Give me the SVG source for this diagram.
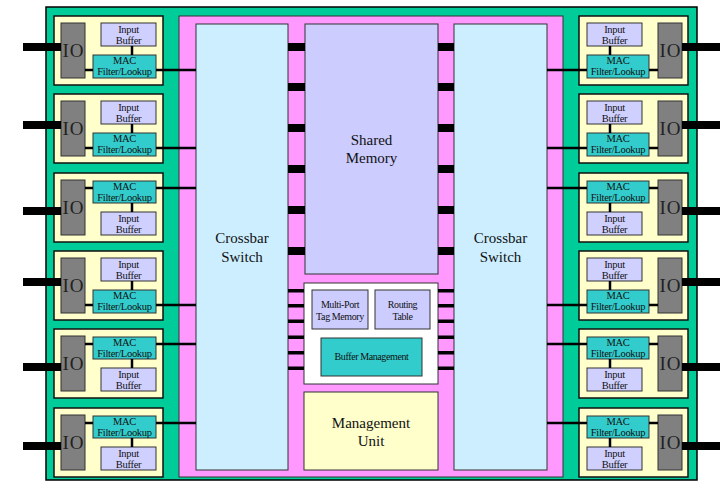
<svg xmlns="http://www.w3.org/2000/svg" width="720" height="482" viewBox="0 0 720 482">
<style>
text{font-family:"Liberation Serif","Times New Roman",serif;fill:#111;text-anchor:middle}
.sm{font-size:10px;letter-spacing:-0.4px}
.md{font-size:10.5px;letter-spacing:-0.3px}
.lg{font-size:15px}
.io{font-size:19px;fill:#222;letter-spacing:1px}
.port{fill:#FFFFCC;stroke:#111;stroke-width:1.5}
.iob{fill:#808080;stroke:#333;stroke-width:1}
.buf{fill:#D0D0FF;stroke:#333;stroke-width:1}
.mac{fill:#33CCCC;stroke:#333;stroke-width:1}
.ln{stroke:#000;stroke-width:2.5;fill:none}
.ext{stroke:#000;stroke-width:8;fill:none}
.bar{fill:#000}
</style>
<rect width="720" height="482" fill="#fff"/>
<g id="chassis">
<rect x="46" y="7" width="651" height="473" fill="#00CC99" stroke="#000" stroke-width="1.5"/>
</g>
<g id="core">
<rect x="179" y="16" width="384" height="461" fill="#FF99FF" stroke="#333" stroke-width="1"/>
</g>
<g id="crossbar-left">
<rect x="196" y="24" width="92" height="446" fill="#CCEEFF" stroke="#333" stroke-width="1"/>
<text class="lg" x="242" y="243">Crossbar</text>
<text class="lg" x="242" y="262">Switch</text>
</g>
<g id="crossbar-right">
<rect x="454" y="24" width="93" height="446" fill="#CCEEFF" stroke="#333" stroke-width="1"/>
<text class="lg" x="500.5" y="243">Crossbar</text>
<text class="lg" x="500.5" y="262">Switch</text>
</g>
<g id="shared-memory">
<rect x="305" y="24" width="133" height="250" fill="#CCCCFF" stroke="#333" stroke-width="1"/>
<text class="lg" x="371.5" y="145">Shared</text>
<text class="lg" x="371.5" y="163">Memory</text>
</g>
<g id="control">
<rect x="304" y="283" width="134" height="101" fill="#FFFFFF" stroke="#333" stroke-width="1"/>
</g>
<g id="tag-memory">
<rect x="312" y="290" width="56" height="39" fill="#CCCCFF" stroke="#333" stroke-width="1"/>
<text class="sm" x="340" y="308">Multi-Port</text>
<text class="sm" x="340" y="320">Tag Memory</text>
</g>
<g id="routing-table">
<rect x="375" y="290" width="55" height="39" fill="#CCCCFF" stroke="#333" stroke-width="1"/>
<text class="sm" x="402.5" y="308">Routing</text>
<text class="sm" x="402.5" y="320">Table</text>
</g>
<g id="buffer-management">
<rect x="321" y="338" width="101" height="38" fill="#33CCCC" stroke="#333" stroke-width="1"/>
<text class="sm" x="371.5" y="360">Buffer Management</text>
</g>
<g id="management-unit">
<rect x="304" y="392" width="134" height="78" fill="#FFFFCC" stroke="#333" stroke-width="1"/>
<text class="lg" x="371" y="428">Management</text>
<text class="lg" x="371" y="446">Unit</text>
</g>

<!-- left ports -->
<g id="port-l1">
<rect class="port" x="54" y="16" width="109" height="69"/>
<rect class="iob" x="61" y="23" width="24" height="55"/><text class="io" x="73.5" y="57">IO</text>
<rect class="buf" x="101" y="23" width="55" height="23"/><text class="md" x="128.5" y="33">Input</text><text class="md" x="128.5" y="44">Buffer</text>
<rect class="mac" x="93" y="55" width="63" height="23"/><text class="md" x="124.5" y="64">MAC</text><text class="md" x="124.5" y="75">Filter/Lookup</text>
</g>
<g id="port-l2">
<rect class="port" x="54" y="94" width="109" height="69"/>
<rect class="iob" x="61" y="101" width="24" height="55"/><text class="io" x="73.5" y="135">IO</text>
<rect class="buf" x="101" y="101" width="55" height="23"/><text class="md" x="128.5" y="111">Input</text><text class="md" x="128.5" y="122">Buffer</text>
<rect class="mac" x="93" y="133" width="63" height="23"/><text class="md" x="124.5" y="142">MAC</text><text class="md" x="124.5" y="153">Filter/Lookup</text>
</g>
<g id="port-l3">
<rect class="port" x="54" y="173" width="109" height="69"/>
<rect class="iob" x="61" y="180" width="24" height="55"/><text class="io" x="73.5" y="214">IO</text>
<rect class="mac" x="93" y="181" width="63" height="22"/><text class="md" x="124.5" y="190">MAC</text><text class="md" x="124.5" y="201">Filter/Lookup</text>
<rect class="buf" x="101" y="212" width="55" height="23"/><text class="md" x="128.5" y="222">Input</text><text class="md" x="128.5" y="233">Buffer</text>
</g>
<g id="port-l4">
<rect class="port" x="54" y="251" width="109" height="69"/>
<rect class="iob" x="61" y="258" width="24" height="55"/><text class="io" x="73.5" y="292">IO</text>
<rect class="buf" x="101" y="258" width="55" height="23"/><text class="md" x="128.5" y="268">Input</text><text class="md" x="128.5" y="279">Buffer</text>
<rect class="mac" x="93" y="290" width="63" height="23"/><text class="md" x="124.5" y="299">MAC</text><text class="md" x="124.5" y="310">Filter/Lookup</text>
</g>
<g id="port-l5">
<rect class="port" x="54" y="329" width="109" height="69"/>
<rect class="iob" x="61" y="336" width="24" height="55"/><text class="io" x="73.5" y="370">IO</text>
<rect class="mac" x="93" y="337" width="63" height="22"/><text class="md" x="124.5" y="346">MAC</text><text class="md" x="124.5" y="357">Filter/Lookup</text>
<rect class="buf" x="101" y="368" width="55" height="23"/><text class="md" x="128.5" y="378">Input</text><text class="md" x="128.5" y="389">Buffer</text>
</g>
<g id="port-l6">
<rect class="port" x="54" y="408" width="109" height="69"/>
<rect class="iob" x="61" y="415" width="24" height="55"/><text class="io" x="73.5" y="449">IO</text>
<rect class="mac" x="93" y="416" width="63" height="22"/><text class="md" x="124.5" y="425">MAC</text><text class="md" x="124.5" y="436">Filter/Lookup</text>
<rect class="buf" x="101" y="447" width="55" height="23"/><text class="md" x="128.5" y="457">Input</text><text class="md" x="128.5" y="468">Buffer</text>
</g>

<!-- right ports -->
<g id="port-r1">
<rect class="port" x="579" y="16" width="109" height="69"/>
<rect class="iob" x="658" y="23" width="24" height="55"/><text class="io" x="670.5" y="57">IO</text>
<rect class="buf" x="587" y="23" width="55" height="23"/><text class="md" x="614.5" y="33">Input</text><text class="md" x="614.5" y="44">Buffer</text>
<rect class="mac" x="587" y="55" width="62" height="23"/><text class="md" x="618" y="64">MAC</text><text class="md" x="618" y="75">Filter/Lookup</text>
</g>
<g id="port-r2">
<rect class="port" x="579" y="94" width="109" height="69"/>
<rect class="iob" x="658" y="101" width="24" height="55"/><text class="io" x="670.5" y="135">IO</text>
<rect class="buf" x="587" y="101" width="55" height="23"/><text class="md" x="614.5" y="111">Input</text><text class="md" x="614.5" y="122">Buffer</text>
<rect class="mac" x="587" y="133" width="62" height="23"/><text class="md" x="618" y="142">MAC</text><text class="md" x="618" y="153">Filter/Lookup</text>
</g>
<g id="port-r3">
<rect class="port" x="579" y="173" width="109" height="69"/>
<rect class="iob" x="658" y="180" width="24" height="55"/><text class="io" x="670.5" y="214">IO</text>
<rect class="mac" x="587" y="181" width="62" height="22"/><text class="md" x="618" y="190">MAC</text><text class="md" x="618" y="201">Filter/Lookup</text>
<rect class="buf" x="587" y="212" width="55" height="23"/><text class="md" x="614.5" y="222">Input</text><text class="md" x="614.5" y="233">Buffer</text>
</g>
<g id="port-r4">
<rect class="port" x="579" y="251" width="109" height="69"/>
<rect class="iob" x="658" y="258" width="24" height="55"/><text class="io" x="670.5" y="292">IO</text>
<rect class="buf" x="587" y="258" width="55" height="23"/><text class="md" x="614.5" y="268">Input</text><text class="md" x="614.5" y="279">Buffer</text>
<rect class="mac" x="587" y="290" width="62" height="23"/><text class="md" x="618" y="299">MAC</text><text class="md" x="618" y="310">Filter/Lookup</text>
</g>
<g id="port-r5">
<rect class="port" x="579" y="329" width="109" height="69"/>
<rect class="iob" x="658" y="336" width="24" height="55"/><text class="io" x="670.5" y="370">IO</text>
<rect class="mac" x="587" y="337" width="62" height="22"/><text class="md" x="618" y="346">MAC</text><text class="md" x="618" y="357">Filter/Lookup</text>
<rect class="buf" x="587" y="368" width="55" height="23"/><text class="md" x="614.5" y="378">Input</text><text class="md" x="614.5" y="389">Buffer</text>
</g>
<g id="port-r6">
<rect class="port" x="579" y="408" width="109" height="69"/>
<rect class="iob" x="658" y="415" width="24" height="55"/><text class="io" x="670.5" y="449">IO</text>
<rect class="mac" x="587" y="416" width="62" height="22"/><text class="md" x="618" y="425">MAC</text><text class="md" x="618" y="436">Filter/Lookup</text>
<rect class="buf" x="587" y="447" width="55" height="23"/><text class="md" x="614.5" y="457">Input</text><text class="md" x="614.5" y="468">Buffer</text>
</g>

<g id="connectors">
<path class="ext" d="M23 47H61M23 125H61M23 211H61M23 282H61M23 367H61M23 446H61"/>
<path class="ext" d="M682 47H720M682 125H720M682 211H720M682 282H720M682 367H720M682 446H720"/>
<path class="ln" d="M85 70H93M85 148H93M85 188H93M85 305H93M85 344H93M85 423H93"/>
<path class="ln" d="M132 46V55M132 124V133M132 203V212M132 281V290M132 359V368M132 438V447"/>
<path class="ln" d="M156 70H196M156 148H196M156 188H196M156 305H196M156 344H196M156 423H196"/>
<path class="ln" d="M649 70H658M649 148H658M649 188H658M649 305H658M649 344H658M649 423H658"/>
<path class="ln" d="M610 46V55M610 124V133M610 203V212M610 281V290M610 359V368M610 438V447"/>
<path class="ln" d="M547 70H587M547 148H587M547 188H587M547 305H587M547 344H587M547 423H587"/>
<g class="bar">
<rect x="288" y="43" width="17" height="8"/><rect x="288" y="83" width="17" height="8"/><rect x="288" y="124" width="17" height="8"/>
<rect x="288" y="165" width="17" height="8"/><rect x="288" y="206" width="17" height="8"/><rect x="288" y="247" width="17" height="8"/>
<rect x="438" y="43" width="16" height="8"/><rect x="438" y="83" width="16" height="8"/><rect x="438" y="124" width="16" height="8"/>
<rect x="438" y="165" width="16" height="8"/><rect x="438" y="206" width="16" height="8"/><rect x="438" y="247" width="16" height="8"/>
<rect x="288" y="289" width="16" height="3.5"/><rect x="288" y="304" width="16" height="3.5"/><rect x="288" y="319.5" width="16" height="3.5"/>
<rect x="288" y="335.5" width="16" height="3.5"/><rect x="288" y="351" width="16" height="3.5"/><rect x="288" y="366.5" width="16" height="3.5"/>
<rect x="438" y="289" width="16" height="3.5"/><rect x="438" y="304" width="16" height="3.5"/><rect x="438" y="319.5" width="16" height="3.5"/>
<rect x="438" y="335.5" width="16" height="3.5"/><rect x="438" y="351" width="16" height="3.5"/><rect x="438" y="366.5" width="16" height="3.5"/>
</g>
</g>
</svg>
